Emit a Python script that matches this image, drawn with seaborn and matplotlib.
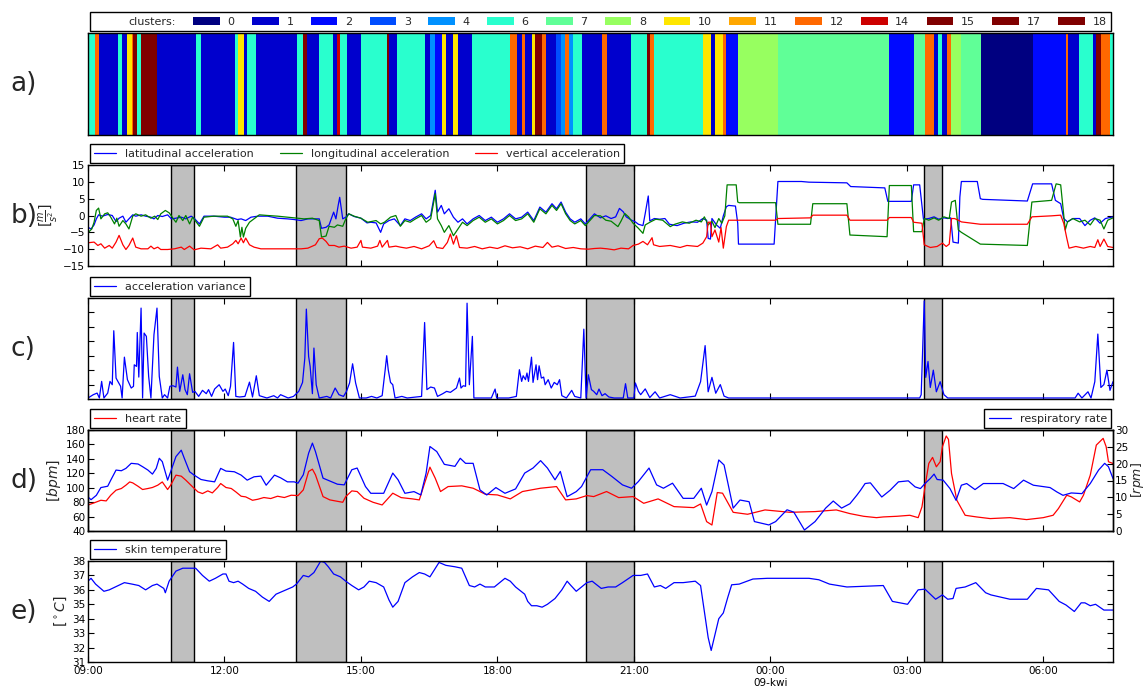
import matplotlib
matplotlib.use("Agg")
import matplotlib.pyplot as plt
from matplotlib.colors import Normalize
from matplotlib.patches import Patch
from matplotlib.ticker import FixedLocator, FuncFormatter, NullFormatter
import numpy as np
import seaborn as sns

# time axis: minutes after 09:00 (08 April) up to 07:32 next morning
T_END = 1352

# a) cluster segments: start minute and cluster id
cluster_start = [0, 9, 14, 39, 45, 52, 58, 60, 64, 70, 91.5, 142, 149.5, 194, 198.5,
                 206, 209.5, 222, 275.5, 283, 289, 304.5, 323, 328, 333, 341, 359.5,
                 394.5, 397.5, 407, 444, 451, 458, 467, 472.5, 482, 487.5, 507, 557,
                 566, 572.5, 577, 585, 589.5, 598.5, 604, 617.5, 623.5, 629, 635, 639.5,
                 652, 678, 684, 716, 737, 741, 747, 811, 821.5, 827, 837, 842, 858,
                 909.5, 1056, 1089.5, 1104, 1115.5, 1121, 1126, 1132.5, 1138.5, 1151,
                 1177.5, 1246, 1289.5, 1292, 1307, 1325, 1329.5, 1336.5, 1348]
cluster_id = [6, 12, 1, 6, 1, 10, 12, 15, 6, 15, 1, 6, 1, 6, 10,
              1, 6, 1, 6, 15, 1, 6, 1, 14, 6, 1, 6,
              15, 1, 6, 1, 4, 2, 10, 1, 10, 1, 6, 12,
              1, 12, 1, 10, 15, 12, 1, 3, 4, 12, 4, 6,
              1, 12, 1, 6, 15, 12, 6, 10, 1, 10, 12, 2, 8,
              7, 2, 7, 12, 1, 6, 1, 12, 8, 7,
              0, 2, 12, 1, 6, 1, 15, 12, 6]
legend_clusters = [0, 1, 2, 3, 4, 6, 7, 8, 10, 11, 12, 14, 15, 17, 18]

# grey marked periods (minutes)
span_start = [110, 275, 657, 1103]
span_end = [140, 340, 720, 1126]

# b) accelerations [m/s^2]
lat_acc = [(0, -3.5), (4, -4.0), (8, -2.8), (11, -1.0), (14, 0.2), (19, -0.2), (26, 0.3),
           (32, 0.0), (37, -1.8), (41, -0.8), (46, -0.2), (50, -2.0), (54, -1.0), (59, 0.2),
           (63, -0.2), (70, 0.2), (76, -0.2), (83, -0.5), (87, -1.0), (92, 0.0), (98, -0.3),
           (105, 0.2), (110, -1.0), (116, -0.8), (123, -0.5), (129, -1.0), (136, -0.2),
           (140, -0.8), (147, -2.5), (153, -0.2), (166, -0.2), (180, -0.5), (188, -0.5),
           (197, -1.2), (202, -1.0), (208, -1.5), (215, -0.5), (224, -0.2), (237, -0.2),
           (250, -0.8), (263, -1.0), (272, -1.2), (281, -1.5), (290, -1.0), (298, -1.0),
           (305, -1.0), (308, -3.8), (314, -3.5), (318, -2.8), (324, 1.0), (327, -1.0),
           (330, 3.0), (332, 5.4), (336, -1.0), (340, -0.5), (344, 0.5), (351, -0.3),
           (360, -0.8), (368, -2.2), (373, -2.0), (380, -2.2), (386, -5.0), (390, -2.5),
           (397, -1.5), (404, -1.0), (412, -3.0), (418, -1.0), (425, -1.5), (432, -0.5),
           (440, 0.5), (446, -1.0), (452, 0.0), (458, 7.5), (461, 1.0), (466, 3.0),
           (470, 0.5), (476, 2.0), (482, -0.5), (488, -2.0), (494, -1.0), (500, -2.5),
           (508, -1.0), (516, 0.0), (524, -1.5), (532, -0.5), (540, -2.0), (548, -1.0),
           (556, 0.5), (564, -1.0), (572, -0.5), (580, 1.0), (588, -1.5), (596, 2.5),
           (604, 1.0), (612, 3.5), (618, 2.0), (624, 4.0), (630, 1.0), (636, -1.0),
           (642, -2.0), (650, -1.0), (656, -2.5), (662, -1.0), (668, 0.5), (676, -0.7),
           (683, -0.1), (690, -0.9), (696, -0.4), (701, 2.1), (706, 1.1), (710, -0.4),
           (717, -1.4), (722, -1.9), (726, -2.6), (732, -3.0), (735, 0.6), (739, 5.8),
           (741, -1.6), (747, -0.9), (754, -1.1), (761, -0.9), (767, -2.6), (777, -3.0),
           (786, -2.3), (795, -1.9), (804, -2.0), (811, -0.9), (816, -1.4), (818, -6.8),
           (821, -7.0), (823, -0.9), (829, -2.8), (834, -3.8), (838, -0.1), (842, 2.6),
           (845, 3.0), (854, 2.8), (857, -2.3), (858, -8.5), (868, -8.5), (905, -8.5),
           (910, 10.1), (941, 10.1), (951, 9.9), (1001, 9.7), (1006, 8.6), (1051, 8.2),
           (1055, 4.2), (1086, 4.2), (1089, 9.1), (1097, 9.1), (1102, -1.1), (1109, -0.9),
           (1116, -0.4), (1122, -1.1), (1129, -0.7), (1134, -0.9), (1138, -0.7),
           (1141, -7.9), (1148, -8.2), (1150, 5.5), (1152, 10.1), (1173, 10.1), (1177, 5.0),
           (1180, 4.8), (1239, 4.3), (1246, 9.4), (1271, 9.4), (1276, 4.5), (1283, 3.5),
           (1287, -0.9), (1292, -1.9), (1299, -0.9), (1308, -0.9), (1315, -3.0),
           (1322, -1.4), (1328, -0.7), (1335, -2.3), (1342, -0.9), (1352, -0.4)]

long_acc = [(0, -5.1), (5, -4.0), (8, -2.0), (11, 1.5), (14, 2.2), (17, -1.0), (22, 0.5),
            (26, 0.8), (30, -0.5), (35, -2.5), (38, -0.8), (41, -3.2), (46, -1.5), (50, -2.5),
            (54, -4.0), (59, -0.2), (63, 0.5), (70, -0.2), (76, 0.2), (83, -0.8), (88, -0.2),
            (92, -1.2), (96, 0.5), (102, 1.5), (107, 0.8), (112, -0.8), (116, -2.0),
            (120, 0.0), (125, -1.5), (129, 0.0), (134, -2.5), (138, -0.5), (147, -3.2),
            (153, -0.5), (166, -0.2), (184, -0.2), (191, -1.0), (195, -3.2), (198, -1.5),
            (201, -6.4), (203, -3.5), (205, -6.4), (208, -3.8), (213, -2.0), (219, -1.0),
            (226, 0.2), (237, 0.0), (250, -0.2), (263, -0.5), (276, -0.8), (285, -1.0),
            (296, -0.8), (305, -1.5), (308, -6.4), (314, -6.1), (318, -3.2), (325, -3.5),
            (329, -2.8), (336, -3.2), (340, -1.0), (344, 0.5), (351, -0.2), (360, -0.8),
            (369, -2.0), (380, -1.5), (386, -2.5), (391, -2.0), (399, -0.5), (406, 0.0),
            (412, -3.2), (418, -1.5), (425, -2.0), (432, -1.0), (440, 0.0), (446, -2.0),
            (452, -1.0), (458, 6.5), (461, -1.0), (466, -3.0), (470, -5.0), (476, -3.0),
            (482, -6.0), (488, -4.0), (494, -2.0), (500, -3.0), (508, -1.5), (516, -0.5),
            (524, -2.0), (532, -1.0), (540, -2.5), (548, -1.5), (556, 0.0), (564, -1.5),
            (572, -1.0), (580, 0.5), (588, -2.0), (596, 2.0), (604, 0.5), (612, 3.0),
            (618, 1.5), (624, 3.5), (630, 0.5), (636, -1.5), (642, -2.5), (650, -1.5),
            (656, -3.0), (662, -1.5), (668, 0.0), (676, -0.1), (683, -1.4), (690, -1.7),
            (699, -3.3), (703, -1.7), (708, 0.6), (713, -0.4), (719, -2.3), (726, -3.8),
            (732, -5.3), (735, -2.8), (742, -1.9), (749, -1.1), (758, -1.4), (768, -3.3),
            (774, -2.6), (784, -1.9), (793, -2.3), (802, -1.4), (809, -1.9), (813, -0.4),
            (818, -2.8), (823, -1.7), (827, -3.6), (832, -0.9), (836, -2.3), (840, -0.1),
            (843, 9.1), (855, 9.1), (857, 4.0), (859, 3.8), (907, 3.8), (910, -2.6),
            (953, -2.6), (956, 3.5), (1001, 3.5), (1005, -5.8), (1054, -6.3), (1057, 8.9),
            (1086, 8.9), (1089, -4.8), (1100, -4.8), (1103, -0.9), (1109, -1.4),
            (1116, -0.7), (1122, -1.4), (1129, -0.4), (1136, -0.9), (1139, 4.0),
            (1144, 4.5), (1148, -4.3), (1152, -5.0), (1177, -8.5), (1239, -8.9),
            (1245, 4.0), (1271, 4.5), (1277, 9.4), (1283, 9.1), (1289, -4.3), (1292, -1.9),
            (1299, -0.9), (1308, -1.9), (1315, -1.4), (1322, -2.8), (1328, -0.9),
            (1335, -1.4), (1340, -4.0), (1345, -1.4), (1352, -0.7)]

vert_acc = [(0, -8.1), (8, -7.9), (13, -8.9), (17, -8.4), (22, -9.7), (28, -8.9), (32, -9.7),
            (37, -7.9), (41, -5.9), (46, -8.7), (50, -10.1), (54, -8.9), (59, -6.7),
            (63, -9.4), (70, -9.9), (79, -9.9), (83, -9.1), (87, -9.9), (92, -9.4),
            (96, -10.1), (105, -10.1), (114, -9.9), (123, -9.4), (127, -10.1), (134, -9.1),
            (140, -10.2), (149, -9.7), (162, -9.9), (171, -8.7), (175, -9.7), (184, -9.4),
            (191, -8.4), (195, -7.4), (198, -8.4), (202, -6.7), (205, -8.1), (208, -6.7),
            (213, -8.7), (219, -9.4), (228, -9.9), (246, -9.9), (263, -9.9), (281, -9.9),
            (290, -9.7), (296, -9.1), (300, -8.7), (305, -6.9), (309, -6.7), (314, -7.7),
            (318, -8.9), (325, -8.9), (331, -9.4), (338, -9.1), (347, -9.7), (355, -9.4),
            (360, -7.4), (362, -9.4), (373, -9.7), (382, -9.1), (385, -7.4), (388, -9.4),
            (395, -7.4), (397, -9.4), (406, -9.1), (412, -9.4), (420, -9.7), (430, -9.2),
            (440, -9.9), (450, -9.0), (456, -7.5), (460, -9.5), (468, -9.8), (474, -8.0),
            (478, -5.5), (482, -8.5), (486, -6.0), (490, -9.5), (500, -9.7), (510, -9.2),
            (520, -9.9), (530, -9.4), (540, -9.8), (550, -9.0), (560, -9.6), (570, -9.3),
            (580, -9.9), (590, -9.1), (600, -9.5), (606, -8.0), (612, -9.4), (620, -9.0),
            (630, -9.8), (640, -9.5), (650, -9.9), (660, -10.0), (668, -9.8), (676, -9.7),
            (685, -9.9), (694, -10.2), (703, -9.7), (713, -9.9), (719, -8.9), (726, -8.5),
            (732, -7.7), (738, -8.7), (744, -6.6), (746, -8.7), (754, -9.2), (768, -8.9),
            (781, -9.5), (790, -8.9), (804, -9.2), (811, -8.2), (816, -6.3), (818, -2.0),
            (821, -2.0), (823, -6.3), (827, -4.3), (832, -7.9), (835, -3.6), (838, -9.7),
            (842, -3.3), (845, -1.4), (859, -1.4), (907, -1.4), (910, -0.9), (953, -0.7),
            (956, 0.1), (1001, 0.1), (1005, -1.4), (1054, -1.4), (1057, -0.6), (1086, -0.6),
            (1089, -2.0), (1100, -2.3), (1103, -8.7), (1111, -9.5), (1120, -9.2),
            (1127, -8.2), (1132, -9.2), (1136, -8.5), (1139, -0.9), (1143, -0.9),
            (1148, -1.4), (1152, -1.9), (1177, -2.6), (1239, -2.6), (1245, -0.4),
            (1271, -0.1), (1283, 0.1), (1287, -2.3), (1291, -6.7), (1294, -9.7),
            (1303, -9.2), (1313, -9.7), (1322, -9.2), (1328, -9.5), (1332, -7.2),
            (1335, -9.2), (1340, -7.0), (1345, -9.2), (1352, -9.5)]

# c) acceleration variance (unlabelled scale 0..7)
acc_var = [(0, 0.07), (7, 0.3), (12, 0.41), (15, 0.07), (18, 1.22), (21, 0.07), (26, 0.41),
           (29, 1.22), (32, 0.99), (34, 4.73), (37, 1.45), (43, 0.88), (45, 0.07), (48, 2.9),
           (52, 1.34), (57, 0.76), (60, 0.88), (61, 2.37), (64, 2.26), (65, 4.61), (67, 1.52),
           (70, 6.3), (72, 0.07), (74, 4.57), (77, 4.34), (80, 1.57), (83, 0.07), (87, 4.45),
           (91, 6.3), (94, 1.57), (98, 0.07), (101, 0.3), (105, 0.07), (108, 0.88),
           (112, 0.92), (116, 0.83), (118, 2.21), (121, 0.53), (125, 1.68), (128, 0.65),
           (131, 0.3), (134, 1.75), (138, 0.46), (141, 0.53), (146, 0.18), (151, 0.6),
           (156, 0.37), (159, 0.65), (163, 0.18), (167, 0.69), (173, 0.99), (178, 0.53),
           (181, 0.69), (185, 0.23), (188, 0.88), (192, 3.92), (195, 0.18), (200, 0.14),
           (207, 0.18), (213, 1.17), (217, 0.14), (222, 1.61), (226, 0.23), (236, 0.07),
           (245, 0.23), (250, 0.07), (254, 0.3), (264, 0.07), (271, 0.18), (278, 0.53),
           (283, 1.15), (286, 2.84), (288, 6.23), (291, 2.95), (293, 2.26), (296, 0.37),
           (298, 3.53), (301, 0.99), (305, 0.07), (315, 0.18), (320, 0.07), (326, 0.76),
           (331, 0.3), (337, 0.18), (341, 0.53), (345, 1.11), (349, 2.44), (353, 1.11),
           (358, 0.07), (367, 0.07), (374, 0.18), (381, 0.07), (388, 0.23), (392, 2.03),
           (394, 3.0), (396, 2.03), (399, 1.15), (402, 0.99), (405, 0.07), (414, 0.18),
           (421, 0.07), (440, 0.18), (444, 5.3), (447, 0.65), (452, 0.83), (457, 0.76),
           (461, 0.18), (468, 0.37), (473, 0.53), (478, 0.46), (483, 0.65), (486, 0.76),
           (490, 1.45), (492, 0.76), (495, 0.92), (498, 0.88), (500, 6.64), (503, 0.99),
           (507, 4.34), (509, 0.07), (518, 0.07), (532, 0.07), (537, 0.69), (539, 0.07),
           (555, 0.07), (565, 0.18), (569, 2.03), (572, 1.22), (574, 1.61), (577, 1.34),
           (579, 1.8), (581, 1.22), (585, 2.9), (587, 1.15), (591, 2.37), (593, 1.34),
           (595, 2.3), (598, 1.45), (601, 1.52), (603, 0.99), (607, 1.34), (611, 0.76),
           (615, 1.15), (619, 0.99), (622, 1.34), (625, 0.23), (631, 0.07), (638, 0.6),
           (642, 0.18), (650, 0.07), (654, 4.84), (657, 0.07), (660, 1.68), (664, 0.65),
           (667, 0.53), (671, 0.3), (674, 0.69), (678, 0.23), (682, 0.37), (687, 0.14),
           (694, 0.07), (706, 0.07), (709, 1.06), (712, 0.07), (720, 0.07), (722, 1.11),
           (726, 0.53), (729, 0.3), (735, 0.7), (741, 0.1), (748, 0.5), (754, 0.07),
           (768, 0.3), (781, 0.07), (801, 0.2), (808, 1.2), (814, 3.7), (818, 0.5),
           (823, 1.5), (828, 0.4), (834, 1.0), (839, 0.2), (845, 0.07), (1097, 0.07),
           (1099, 0.3), (1103, 6.8), (1105, 1.5), (1108, 2.6), (1111, 0.8), (1115, 2.0),
           (1119, 0.5), (1124, 1.2), (1129, 0.3), (1134, 0.07), (1302, 0.07), (1306, 0.4),
           (1311, 0.07), (1319, 0.5), (1323, 0.07), (1328, 1.2), (1332, 4.5), (1336, 0.8),
           (1340, 1.0), (1344, 2.0), (1348, 0.6), (1352, 1.2)]

# d) heart rate [bpm] and respiratory rate [rpm]
heart_rate = [(0, 76), (8, 79), (17, 82.6), (24, 81.7), (30, 89.6), (37, 96.6), (44, 98.9),
              (50, 103.5), (55, 108), (59, 106.7), (66, 102), (72, 97.5), (79, 98.9),
              (85, 100.3), (92, 103.5), (98, 108), (105, 97.5), (109, 103.5), (116, 117.4),
              (123, 116), (129, 110.5), (138, 101.2), (145, 94.2), (151, 91.9), (158, 95.6),
              (164, 92.8), (171, 100.3), (175, 105.8), (182, 100.3), (189, 98.9), (195, 94.2),
              (202, 88.2), (208, 87.3), (217, 82.6), (224, 84), (232, 86.4), (241, 85),
              (250, 88.2), (259, 86.4), (268, 89.6), (277, 89.1), (284, 97), (291, 122.5),
              (296, 125.7), (300, 117.9), (310, 87.7), (319, 83.1), (336, 79.8), (340, 87.7),
              (348, 95.6), (355, 94.7), (364, 85.4), (376, 79.8), (388, 76.1), (402, 92.4),
              (413, 86.3), (428, 84.5), (437, 83.1), (444, 106.3), (451, 128.5), (458, 113.2),
              (465, 94.7), (475, 101.6), (493, 102.6), (508, 99.3), (524, 91), (540, 90),
              (557, 84.5), (573, 94.7), (597, 99.3), (618, 101.6), (630, 83.1), (644, 84.5),
              (658, 89.1), (667, 87.7), (684, 94.7), (700, 86.3), (719, 87.7), (733, 78.4),
              (752, 84.5), (773, 73.8), (799, 72.4), (808, 77.5), (816, 53), (823, 48.3),
              (830, 93.3), (837, 92.4), (851, 65.9), (870, 63.2), (893, 69.2), (926, 65.9),
              (959, 66.9), (987, 69.2), (1005, 64.1), (1023, 60.4), (1040, 58.5),
              (1049, 59.5), (1067, 60.4), (1084, 61.8), (1095, 58.5), (1100, 73.4),
              (1104, 101.2), (1109, 133.6), (1114, 142), (1119, 129), (1124, 136),
              (1127, 156.8), (1132, 171.7), (1135, 167), (1139, 119.7), (1146, 82.6),
              (1157, 61.8), (1172, 59.5), (1190, 57.2), (1216, 58.5), (1238, 55.8),
              (1260, 58.5), (1273, 61.8), (1280, 71.1), (1291, 89.6), (1297, 87.3),
              (1308, 80.3), (1313, 89.6), (1322, 117.4), (1330, 159.1), (1339, 168.4),
              (1343, 156.8), (1346, 136), (1352, 133.6)]

resp_rate = [(0, 10.1), (4, 9.3), (11, 10.6), (17, 12.9), (26, 13.3), (30, 15.1), (37, 18.1),
             (44, 17.9), (50, 18.6), (57, 20.1), (66, 19.9), (72, 19.1), (79, 18.1),
             (85, 16.9), (90, 18.6), (94, 21.6), (98, 20.6), (105, 15.1), (109, 17.6),
             (116, 22.1), (123, 24.0), (127, 21.6), (134, 17.6), (140, 16.6), (149, 15.3),
             (158, 14.9), (167, 14.6), (175, 18.6), (182, 17.8), (193, 17.6), (202, 16.6),
             (210, 15.1), (219, 16.1), (228, 16.3), (235, 13.6), (246, 16.6), (254, 15.8),
             (263, 14.6), (272, 14.6), (277, 14.2), (284, 16.7), (291, 23.1), (296, 26.1),
             (300, 23.6), (310, 15.7), (329, 13.9), (338, 13.7), (348, 18.2), (355, 18.7),
             (366, 13.2), (373, 11.2), (390, 11.2), (402, 17.2), (409, 15.2), (418, 11.2),
             (430, 11.7), (439, 10.7), (446, 17.2), (451, 25.1), (460, 23.6), (470, 19.8),
             (484, 19.2), (491, 21.6), (498, 20.1), (508, 20.1), (517, 12.2), (526, 10.7),
             (538, 12.9), (550, 11.2), (564, 12.5), (576, 17.2), (587, 18.7), (597, 20.9),
             (606, 18.7), (616, 15.2), (623, 17.7), (632, 10.2), (644, 11.7), (651, 13.2),
             (663, 18.2), (679, 18.2), (691, 16.2), (705, 13.7), (717, 12.7), (726, 14.7),
             (740, 18.7), (750, 13.7), (759, 12.7), (771, 14.2), (785, 9.7), (799, 9.7),
             (809, 12.7), (816, 7.7), (823, 11.7), (832, 21.1), (839, 19.6), (851, 6.8),
             (860, 9.2), (872, 8.7), (879, 2.8), (898, 1.8), (907, 2.8), (922, 6.3),
             (931, 5.6), (945, 0.3), (959, 2.8), (973, 6.8), (983, 8.9), (994, 6.8),
             (1005, 8.1), (1014, 10.6), (1019, 12.1), (1025, 14.1), (1032, 14.3),
             (1038, 12.6), (1047, 10.1), (1058, 12.1), (1069, 14.6), (1082, 14.9),
             (1091, 13.1), (1098, 12.6), (1104, 14.1), (1111, 15.6), (1116, 16.9),
             (1120, 15.3), (1128, 15.1), (1137, 12.6), (1145, 9.1), (1152, 13.6),
             (1159, 14.1), (1170, 12.3), (1181, 14.1), (1207, 14.1), (1221, 12.6),
             (1234, 15.1), (1247, 13.6), (1269, 12.9), (1278, 11.6), (1286, 10.6),
             (1297, 11.3), (1311, 11.1), (1322, 14.1), (1333, 18.1), (1341, 20.1),
             (1346, 19.1), (1352, 15.6)]

# e) skin temperature [C]
skin_temp = [(0, 36.6), (4, 36.8), (10, 36.4), (21, 35.9), (28, 36.0), (48, 36.5), (58, 36.4),
             (67, 36.3), (76, 36.0), (85, 36.3), (91, 36.4), (100, 36.1), (102, 35.8),
             (107, 36.6), (116, 37.3), (125, 37.5), (136, 37.5), (142, 37.5), (151, 37.0),
             (160, 36.6), (168, 36.8), (178, 37.1), (182, 37.1), (186, 36.6), (192, 36.5),
             (198, 36.6), (204, 36.4), (212, 36.1), (221, 35.9), (230, 35.5), (239, 35.2),
             (248, 35.7), (261, 36.0), (270, 36.2), (275, 36.4), (284, 37.0), (291, 36.9),
             (298, 37.2), (307, 38.0), (312, 37.9), (317, 37.6), (324, 37.1), (333, 36.9),
             (340, 36.6), (348, 36.3), (357, 36.0), (364, 36.2), (371, 36.6), (380, 36.5),
             (390, 36.2), (397, 35.3), (402, 34.8), (409, 35.2), (418, 36.5), (428, 36.9),
             (437, 37.2), (444, 37.1), (451, 36.9), (463, 37.9), (472, 37.7), (484, 37.6),
             (493, 37.5), (503, 36.3), (510, 36.2), (517, 36.4), (524, 36.2), (536, 36.2),
             (543, 36.5), (550, 36.8), (557, 36.6), (564, 36.2), (576, 35.7), (580, 35.2),
             (585, 34.9), (592, 34.9), (599, 34.8), (606, 35.0), (616, 35.4), (625, 36.0),
             (632, 36.6), (637, 36.3), (644, 35.9), (651, 36.2), (658, 36.5), (665, 36.6),
             (677, 36.1), (686, 36.2), (696, 36.2), (705, 36.5), (719, 37.0), (729, 37.0),
             (738, 37.1), (747, 36.2), (755, 36.3), (762, 36.1), (773, 36.5), (785, 36.5),
             (801, 36.6), (808, 36.3), (813, 34.5), (818, 32.7), (822, 31.8), (827, 32.9),
             (832, 34.0), (838, 34.4), (844, 35.5), (849, 36.35), (859, 36.4), (877, 36.75),
             (896, 36.8), (951, 36.8), (964, 36.7), (978, 36.4), (1001, 36.2), (1049, 36.3),
             (1061, 35.2), (1081, 35.0), (1095, 36.0), (1104, 36.05), (1118, 35.35),
             (1127, 35.65), (1134, 35.35), (1141, 35.4), (1145, 36.1), (1157, 36.2),
             (1171, 36.5), (1184, 35.8), (1191, 35.65), (1216, 35.35), (1239, 35.35),
             (1251, 36.1), (1267, 36.0), (1281, 35.2), (1290, 34.95), (1301, 34.5),
             (1310, 35.1), (1315, 35.1), (1322, 34.9), (1329, 35.0), (1340, 34.6),
             (1352, 34.6)]

sns.set_theme(style="ticks")
plt.rcParams.update({
    "axes.edgecolor": "black",
    "axes.linewidth": 1.0,
    "xtick.color": "black",
    "ytick.color": "black",
    "legend.frameon": True,
    "legend.fancybox": False,
    "legend.edgecolor": "black",
    "legend.framealpha": 1.0,
    "legend.fontsize": 8,
    "legend.borderaxespad": 0.15,
    "legend.handletextpad": 0.8,
})
plt.rcParams["font.family"] = ["DejaVu Sans"]

fig = plt.figure(figsize=(11.45, 6.86), dpi=100)
L, W, H = 88 / 1145, 1025 / 1145, 101 / 686
tops = [33, 165, 298, 430, 561]
ax_a = fig.add_axes([L, 1 - (tops[0] + 102) / 686, W, 102 / 686])
axes = [ax_a]
for top in tops[1:]:
    axes.append(fig.add_axes([L, 1 - (top + 101) / 686, W, H], sharex=ax_a))
ax_a, ax_b, ax_c, ax_d, ax_e = axes


def clock(m, pos):
    t = int(round(540 + m)) % 1440
    s = f"{t // 60:02d}:{t % 60:02d}"
    if t == 0:
        s += "\n09-kwi"
    return s


def base_style(ax):
    ax.tick_params(direction="in", top=True, right=True, length=4, width=0.8,
                   labelsize=7.5, labelbottom=False, pad=2)
    for sp in ax.spines.values():
        sp.set_linewidth(1.0)
        sp.set_color("black")


def shade(ax):
    for s, e in zip(span_start, span_end):
        ax.axvspan(s, e, facecolor="#bfbfbf", edgecolor="black", linewidth=1.0, zorder=0)


def line(ax, data, color, label):
    t, v = zip(*data)
    sns.lineplot(x=list(t), y=list(v), ax=ax, color=color, linewidth=0.9,
                 estimator=None, sort=False, label=label)


def legend(ax, **kw):
    leg = ax.legend(loc=kw.pop("loc", "lower left"),
                    bbox_to_anchor=kw.pop("anchor", (0, 1)), **kw)
    leg.get_frame().set_linewidth(1.0)
    return leg


# a) cluster strip
cmap = plt.get_cmap("jet")
norm = Normalize(vmin=0, vmax=15, clip=True)
edges = np.array(cluster_start + [T_END], dtype=float)
ax_a.pcolormesh(edges, [0, 1], np.array([cluster_id]), cmap=cmap, norm=norm)
ax_a.set_ylim(0, 1)
ax_a.yaxis.set_major_locator(FixedLocator([0.25, 0.5, 0.75]))
ax_a.yaxis.set_major_formatter(NullFormatter())
handles = [Patch(facecolor="none", edgecolor="none", label="clusters:")]
handles += [Patch(facecolor=cmap(norm(c)), edgecolor="none", label=str(c))
            for c in legend_clusters]
legend(ax_a, handles=handles, ncol=len(handles), mode="expand",
       anchor=(0, 1, 1, 0.2), handlelength=2.4, handletextpad=0.7)

# b) accelerations
shade(ax_b)
line(ax_b, lat_acc, "#0000ff", "latitudinal acceleration")
line(ax_b, long_acc, "#008000", "longitudinal acceleration")
line(ax_b, vert_acc, "#ff0000", "vertical acceleration")
ax_b.set_ylim(-15, 15)
ax_b.set_yticks(range(-15, 16, 5))
ax_b.set_ylabel(r"$[\frac{m}{s^2}]$", fontsize=10, labelpad=2)
legend(ax_b, ncol=3, columnspacing=2.3)

# c) acceleration variance
shade(ax_c)
line(ax_c, acc_var, "#0000ff", "acceleration variance")
ax_c.set_ylim(0, 7)
ax_c.yaxis.set_major_locator(FixedLocator(range(0, 8)))
ax_c.yaxis.set_major_formatter(NullFormatter())
legend(ax_c)

# d) heart rate + respiratory rate
shade(ax_d)
line(ax_d, heart_rate, "#ff0000", "heart rate")
ax_d.set_ylim(40, 180)
ax_d.set_yticks(range(40, 181, 20))
ax_d.set_ylabel(r"$[bpm]$", fontsize=10, labelpad=2)
ax_d2 = ax_d.twinx()
line(ax_d2, resp_rate, "#0000ff", "respiratory rate")
ax_d2.set_ylim(0, 30)
ax_d2.set_yticks(range(0, 31, 5))
ax_d2.set_ylabel(r"$[rpm]$", fontsize=9, labelpad=0.5)
legend(ax_d)
legend(ax_d2, loc="lower right", anchor=(1, 1))

# e) skin temperature
shade(ax_e)
line(ax_e, skin_temp, "#0000ff", "skin temperature")
ax_e.set_ylim(31, 38)
ax_e.set_yticks(range(31, 39))
ax_e.set_ylabel(r"$[^\circ C]$", fontsize=10, labelpad=2)
legend(ax_e)

for ax in axes:
    base_style(ax)
ax_d.tick_params(right=False)
ax_d2.tick_params(direction="in", left=False, right=True, length=4, width=0.8,
                  labelsize=7.5, pad=1.5)
ax_e.tick_params(labelbottom=True, axis="x", pad=3)

ax_a.set_xlim(0, T_END)
ax_a.xaxis.set_major_locator(FixedLocator(range(0, T_END, 180)))
ax_a.xaxis.set_major_formatter(FuncFormatter(clock))

for letter, top in zip("abcde", tops):
    fig.text(0.009, 1 - (top + 51) / 686, letter + ")", fontsize=19, va="center")

fig.savefig("out.png", dpi=100)
